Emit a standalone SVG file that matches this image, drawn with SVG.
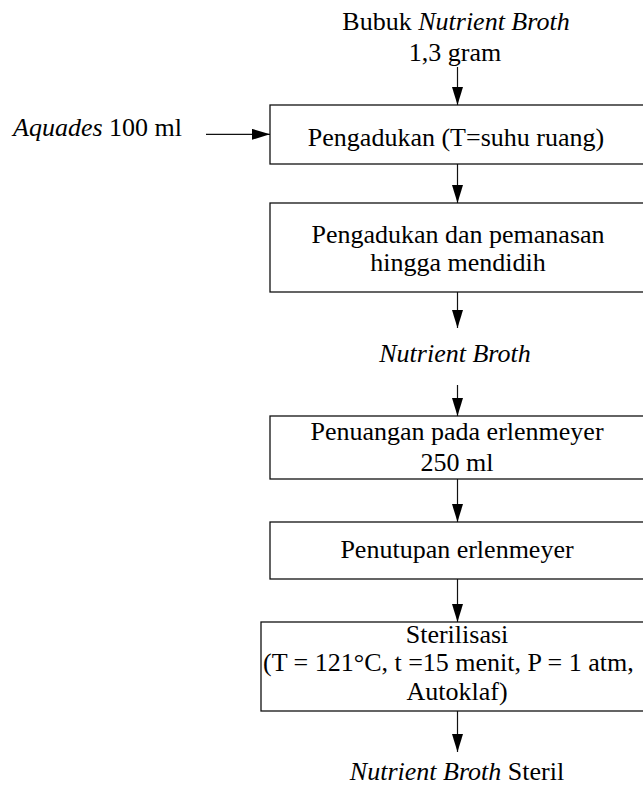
<svg xmlns="http://www.w3.org/2000/svg" width="643" height="785" viewBox="0 0 643 785">
  <style>
    text { font-family: "Liberation Serif", "Times New Roman", serif; font-size: 26px; fill: #000; }
    .c { text-anchor: middle; }
    .i { font-style: italic; }
    .box { fill: #fff; stroke: #111; stroke-width: 1.3; }
    .edge { stroke: #111; stroke-width: 1.2; fill: none; marker-end: url(#arrow); }
  </style>
  <defs>
    <marker id="arrow" markerUnits="userSpaceOnUse" markerWidth="19" markerHeight="12" refX="18" refY="5.5" orient="auto">
      <polygon points="0,0 18,5.5 0,11" fill="#000"/>
    </marker>
  </defs>

  <!-- inputs -->
  <g id="input-powder">
    <text class="c" x="456" y="30">Bubuk <tspan class="i">Nutrient Broth</tspan></text>
    <text class="c" x="455" y="61">1,3 gram</text>
  </g>
  <g id="input-water">
    <text x="13" y="136"><tspan class="i">Aquades</tspan> 100 ml</text>
  </g>

  <!-- process steps -->
  <g id="step-stir">
    <rect class="box" x="270" y="105" width="400" height="59"/>
    <text class="c" x="456" y="146">Pengadukan (T=suhu ruang)</text>
  </g>
  <g id="step-heat">
    <rect class="box" x="270" y="203" width="400" height="89"/>
    <text class="c" x="458" y="243">Pengadukan dan pemanasan</text>
    <text class="c" x="458" y="271">hingga mendidih</text>
  </g>
  <g id="intermediate">
    <text class="c i" x="455" y="362">Nutrient Broth</text>
  </g>
  <g id="step-pour">
    <rect class="box" x="270" y="416" width="400" height="63"/>
    <text class="c" x="457" y="440">Penuangan pada erlenmeyer</text>
    <text class="c" x="457" y="471">250 ml</text>
  </g>
  <g id="step-close">
    <rect class="box" x="270" y="522" width="400" height="57"/>
    <text class="c" x="457" y="558">Penutupan erlenmeyer</text>
  </g>
  <g id="step-sterilize">
    <rect class="box" x="261" y="622" width="420" height="89"/>
    <text class="c" x="457" y="643">Sterilisasi</text>
    <text x="263" y="671">(T = 121°C, t =15 menit, P = 1 atm,</text>
    <text class="c" x="457" y="700">Autoklaf)</text>
  </g>
  <g id="output">
    <text class="c" x="457" y="780"><tspan class="i">Nutrient Broth</tspan> Steril</text>
  </g>

  <!-- connectors -->
  <g id="connectors">
    <line class="edge" x1="457.5" y1="67" x2="457.5" y2="105"/>
    <line class="edge" x1="206" y1="134.3" x2="270" y2="134.3"/>
    <line class="edge" x1="457.5" y1="164" x2="457.5" y2="203"/>
    <line class="edge" x1="457.5" y1="292" x2="457.5" y2="328"/>
    <line class="edge" x1="457.5" y1="385" x2="457.5" y2="416"/>
    <line class="edge" x1="457.5" y1="479" x2="457.5" y2="522"/>
    <line class="edge" x1="457.5" y1="579" x2="457.5" y2="622"/>
    <line class="edge" x1="457.5" y1="711" x2="457.5" y2="752"/>
  </g>
</svg>
